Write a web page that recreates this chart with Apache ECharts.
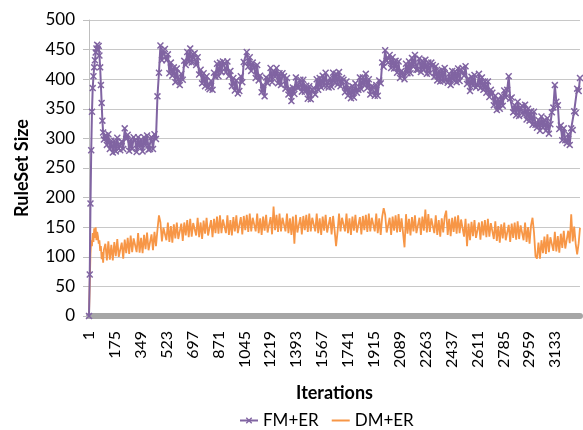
<!DOCTYPE html>
<html>
<head>
<meta charset="utf-8">
<script src="https://cdn.jsdelivr.net/npm/echarts@6/dist/echarts.min.js"></script>
<style>
  html, body { margin: 0; padding: 0; background: #fff; }
  #chart { width: 583px; height: 430px; }
</style>
</head>
<body>
<div id="chart"></div>
<script>
const iterations = [
  1, 6, 11, 16, 21, 26, 31, 36, 41, 46, 51, 56, 61, 66, 71, 76, 81, 86, 91, 96, 101,
  111, 121, 131, 141, 151, 161, 171, 181, 191, 201,
  211, 221, 231, 241, 251, 261, 271, 281, 291, 301,
  311, 321, 331, 341, 351, 361, 371, 381, 391, 401,
  411, 421, 431, 441, 451, 461, 471, 481, 491, 501,
  511, 521, 531, 541, 551, 561, 571, 581, 591, 601,
  611, 621, 631, 641, 651, 661, 671, 681, 691, 701,
  711, 721, 731, 741, 751, 761, 771, 781, 791, 801,
  811, 821, 831, 841, 851, 861, 871, 881, 891, 901,
  911, 921, 931, 941, 951, 961, 971, 981, 991, 1001,
  1011, 1021, 1031, 1041, 1051, 1061, 1071, 1081, 1091, 1101,
  1111, 1121, 1131, 1141, 1151, 1161, 1171, 1181, 1191, 1201,
  1211, 1221, 1231, 1241, 1251, 1261, 1271, 1281, 1291, 1301,
  1311, 1321, 1331, 1341, 1351, 1361, 1371, 1381, 1391, 1401,
  1411, 1421, 1431, 1441, 1451, 1461, 1471, 1481, 1491, 1501,
  1511, 1521, 1531, 1541, 1551, 1561, 1571, 1581, 1591, 1601,
  1611, 1621, 1631, 1641, 1651, 1661, 1671, 1681, 1691, 1701,
  1711, 1721, 1731, 1741, 1751, 1761, 1771, 1781, 1791, 1801,
  1811, 1821, 1831, 1841, 1851, 1861, 1871, 1881, 1891, 1901,
  1911, 1921, 1931, 1941, 1951, 1961, 1971, 1981, 1991, 2001,
  2011, 2021, 2031, 2041, 2051, 2061, 2071, 2081, 2091, 2101,
  2111, 2121, 2131, 2141, 2151, 2161, 2171, 2181, 2191, 2201,
  2211, 2221, 2231, 2241, 2251, 2261, 2271, 2281, 2291, 2301,
  2311, 2321, 2331, 2341, 2351, 2361, 2371, 2381, 2391, 2401,
  2411, 2421, 2431, 2441, 2451, 2461, 2471, 2481, 2491, 2501,
  2511, 2521, 2531, 2541, 2551, 2561, 2571, 2581, 2591, 2601,
  2611, 2621, 2631, 2641, 2651, 2661, 2671, 2681, 2691, 2701,
  2711, 2721, 2731, 2741, 2751, 2761, 2771, 2781, 2791, 2801,
  2811, 2821, 2831, 2841, 2851, 2861, 2871, 2881, 2891, 2901,
  2911, 2921, 2931, 2941, 2951, 2961, 2971, 2981, 2991, 3001,
  3011, 3021, 3031, 3041, 3051, 3061, 3071, 3081, 3091, 3101,
  3111, 3121, 3131, 3141, 3151, 3161, 3171, 3181, 3191, 3201,
  3211, 3221, 3231, 3241, 3251, 3261, 3271, 3281, 3291, 3300
];

// FM+ER
const fmEr = [
  0, 70, 190, 280, 345, 385, 405, 420, 432, 445, 452, 458, 450, 456, 440, 420, 390, 360, 330, 310, 298,
  305, 289, 307, 282, 296, 276, 296, 278, 301, 283,
  280, 295, 282, 317, 299, 306, 279, 298, 282, 302,
  297, 277, 302, 285, 298, 278, 302, 288, 305, 281,
  282, 302, 282, 307, 299, 371, 411, 457, 432, 448,
  451, 432, 442, 410, 428, 406, 420, 395, 418, 399,
  390, 409, 399, 431, 424, 446, 429, 452, 428, 442,
  444, 424, 437, 408, 416, 393, 410, 388, 405, 386,
  383, 397, 382, 411, 404, 426, 405, 428, 412, 430,
  427, 412, 430, 405, 414, 388, 402, 381, 398, 376,
  380, 405, 395, 429, 426, 446, 421, 437, 414, 428,
  421, 402, 424, 398, 406, 378, 390, 371, 403, 393,
  400, 419, 395, 414, 404, 419, 393, 410, 390, 410,
  405, 384, 402, 374, 384, 363, 386, 375, 403, 386,
  386, 399, 379, 399, 379, 389, 367, 388, 366, 382,
  385, 374, 400, 382, 402, 386, 406, 389, 411, 389,
  386, 402, 387, 411, 394, 409, 391, 412, 388, 402,
  399, 378, 396, 372, 386, 368, 388, 369, 393, 377,
  382, 403, 383, 403, 390, 409, 385, 400, 374, 388,
  387, 372, 390, 372, 398, 393, 428, 421, 449, 431,
  428, 441, 419, 437, 418, 431, 411, 430, 402, 414,
  411, 400, 426, 410, 430, 410, 436, 421, 441, 416,
  416, 435, 412, 431, 416, 433, 409, 428, 410, 428,
  424, 404, 422, 398, 414, 396, 416, 397, 419, 399,
  394, 409, 390, 414, 398, 413, 395, 418, 397, 416,
  419, 406, 422, 392, 401, 380, 404, 389, 407, 386,
  390, 409, 385, 403, 382, 396, 377, 396, 370, 382,
  377, 356, 372, 348, 366, 350, 372, 355, 381, 369,
  382, 405, 367, 369, 344, 356, 339, 362, 338, 352,
  355, 340, 357, 332, 350, 330, 346, 323, 345, 323,
  318, 331, 313, 337, 318, 331, 313, 334, 308, 324,
  344, 352, 390, 362, 356, 316, 322, 297, 317, 297,
  292, 307, 289, 317, 314, 346, 343, 384, 380, 402
];

// DM+ER
const dmEr = [
  0, 55, 105, 128, 118, 140, 125, 148, 132, 150, 128, 142, 135, 122, 128, 110, 118, 96, 108, 90, 112,
  122, 94, 126, 95, 120, 94, 125, 101, 130, 100,
  97, 124, 97, 129, 106, 132, 105, 136, 108, 131,
  134, 108, 140, 107, 132, 106, 137, 113, 141, 111,
  111, 138, 111, 142, 118, 146, 170, 158, 126, 149,
  152, 128, 158, 125, 152, 124, 155, 131, 158, 130,
  129, 156, 127, 158, 136, 162, 133, 164, 134, 157,
  160, 136, 166, 133, 158, 130, 161, 139, 166, 136,
  135, 162, 133, 164, 140, 168, 139, 170, 140, 163,
  166, 140, 170, 137, 162, 136, 167, 143, 170, 140,
  140, 167, 138, 169, 145, 171, 142, 173, 143, 166,
  169, 143, 173, 140, 165, 137, 168, 144, 171, 141,
  140, 167, 138, 185, 145, 171, 142, 173, 143, 166,
  169, 143, 173, 140, 165, 137, 168, 122, 171, 141,
  140, 167, 138, 169, 145, 171, 142, 173, 143, 166,
  169, 143, 173, 140, 165, 137, 168, 144, 171, 141,
  140, 167, 138, 169, 145, 118, 142, 173, 143, 166,
  169, 143, 173, 140, 165, 137, 168, 144, 171, 141,
  140, 167, 138, 169, 145, 171, 142, 173, 143, 166,
  169, 143, 173, 140, 165, 137, 168, 182, 171, 141,
  139, 166, 137, 168, 144, 170, 141, 172, 142, 165,
  168, 116, 172, 139, 164, 136, 167, 143, 170, 140,
  139, 166, 137, 168, 144, 180, 141, 172, 142, 165,
  166, 140, 170, 137, 162, 134, 165, 141, 168, 178,
  137, 164, 135, 166, 142, 168, 139, 170, 140, 163,
  160, 134, 164, 118, 156, 128, 159, 135, 162, 132,
  131, 158, 129, 160, 136, 162, 133, 164, 134, 157,
  156, 130, 160, 127, 152, 124, 155, 131, 158, 128,
  127, 154, 125, 156, 132, 158, 129, 160, 130, 153,
  154, 128, 158, 125, 150, 122, 153, 166, 141, 101,
  97, 124, 97, 128, 106, 134, 105, 138, 108, 133,
  136, 110, 142, 109, 135, 107, 139, 115, 144, 114,
  115, 144, 123, 172, 126, 151, 122, 104, 123, 149
];

const tickLabels = [1, 175, 349, 523, 697, 871, 1045, 1219, 1393, 1567, 1741, 1915, 2089, 2263, 2437, 2611, 2785, 2959, 3133];

const FONT = 'Lato';
// cross marker like the Excel "x" marker
const xMark = 'path://M0,1.5L1.5,0L5,3.5L8.5,0L10,1.5L6.5,5L10,8.5L8.5,10L5,6.5L1.5,10L0,8.5L3.5,5Z';

function pairs(values) {
  return values.map((v, i) => [iterations[i], v]);
}

var myChart = echarts.init(document.getElementById('chart'), null, { renderer: 'canvas' });
var option = {
  animation: false,
  backgroundColor: '#fff',
  textStyle: { fontFamily: FONT },
  grid: { left: 89, right: 3, top: 20, bottom: 114, containLabel: false },
  legend: {
    left: 234,
    top: 407,
    itemWidth: 18,
    itemHeight: 8,
    itemGap: 12,
    textStyle: { fontFamily: FONT, fontSize: 17, color: '#000' },
    data: [
      { name: 'FM+ER' },
      { name: 'DM+ER', itemStyle: { opacity: 0 } }
    ]
  },
  xAxis: {
    type: 'value',
    min: 1,
    max: 3300,
    offset: 3,
    name: 'Iterations',
    nameLocation: 'middle',
    nameGap: 65,
    nameTextStyle: { fontFamily: FONT, fontSize: 18, fontWeight: 'bold', color: '#000' },
    axisLine: { show: true, lineStyle: { color: '#a6a6a6', width: 6 } },
    axisTick: { show: false },
    splitLine: { show: false },
    axisLabel: {
      customValues: tickLabels,
      rotate: 90,
      margin: 12,
      fontFamily: FONT,
      fontSize: 16,
      color: '#000',
      formatter: (v) => String(v)
    }
  },
  yAxis: {
    type: 'value',
    min: 0,
    max: 500,
    interval: 50,
    name: 'RuleSet Size',
    nameLocation: 'middle',
    nameGap: 58,
    nameTextStyle: { fontFamily: FONT, fontSize: 18, fontWeight: 'bold', color: '#000' },
    axisLine: { show: true, lineStyle: { color: '#bfbfbf', width: 1 } },
    axisTick: { show: true, length: 6, lineStyle: { color: '#bfbfbf' } },
    splitLine: { show: true, lineStyle: { color: '#c8c8c8', width: 1 } },
    axisLabel: { margin: 14, fontFamily: FONT, fontSize: 17, color: '#000' }
  },
  series: [
    {
      name: 'FM+ER',
      type: 'line',
      data: pairs(fmEr),
      symbol: xMark,
      symbolSize: 7,
      showSymbol: true,
      showAllSymbol: true,
      lineStyle: { color: '#8064A2', width: 2 },
      itemStyle: { color: '#8064A2' },
      z: 3
    },
    {
      name: 'DM+ER',
      type: 'line',
      data: pairs(dmEr),
      symbol: 'none',
      lineStyle: { color: '#F79646', width: 1.8 },
      itemStyle: { color: '#F79646' },
      z: 2
    }
  ]
};
option && myChart.setOption(option);
</script>
</body>
</html>
